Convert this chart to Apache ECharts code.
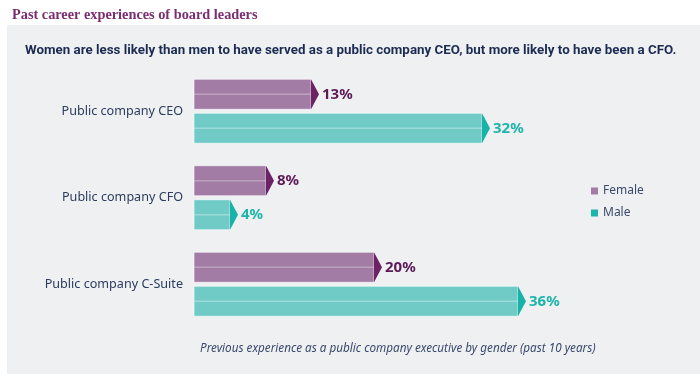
<!DOCTYPE html>
<html><head><meta charset="utf-8">
<script src="https://cdn.jsdelivr.net/npm/echarts@6/dist/echarts.min.js"></script>
<style>html,body{margin:0;padding:0;background:#fff}#c{width:700px;height:378px}</style>
</head><body><div id="c"></div>
<script>
var categories = ['Public company CEO', 'Public company CFO', 'Public company C-Suite'];
var female = [13, 8, 20];
var male = [32, 4, 36];
var seriesNames = ['Female', 'Male'];

var chart = echarts.init(document.getElementById('c'), null, {renderer: 'canvas'});

function makeRender(offset, body, tip, labelColor) {
  return function (params, api) {
    var v = api.value(0), ci = api.value(1);
    var s = api.coord([0, ci]);
    var e = api.coord([v, ci]);
    var yc = s[1] + offset;
    var h = 30;
    return {
      type: 'group',
      children: [
        {type: 'rect', shape: {x: s[0], y: yc - h / 2, width: e[0] - s[0], height: h},
          style: {fill: body, stroke: 'rgba(255,255,255,0.6)', lineWidth: 1}},
        {type: 'line', shape: {x1: s[0], y1: yc, x2: e[0], y2: yc},
          style: {stroke: 'rgba(255,255,255,0.3)', lineWidth: 1.5}},
        {type: 'polygon', shape: {points: [[e[0], yc - h / 2], [e[0] + 8, yc], [e[0], yc + h / 2]]},
          style: {fill: tip}},
        {type: 'text', x: e[0] + 11, y: yc,
          style: {text: v + '%', fill: labelColor, font: 'bold 15px "Noto Sans", sans-serif', verticalAlign: 'middle', align: 'left'}}
      ]
    };
  };
}

var option = {
  animation: false,
  backgroundColor: '#ffffff',
  graphic: [
    {type: 'rect', shape: {x: 7, y: 25, width: 693, height: 349}, style: {fill: '#eff0f2'}, z: -10}
  ],
  title: [
    {text: 'Past career experiences of board leaders', left: 7, top: 3,
      textStyle: {fontFamily: '"Liberation Serif", serif', fontWeight: 'bold', fontSize: 14.3, color: '#7b2d72'}},
    {text: 'Women are less likely than men to have served as a public company CEO, but more likely to have been a CFO.', left: 20, top: 39,
      textStyle: {fontFamily: 'Roboto, sans-serif', fontWeight: 'bold', fontSize: 13.35, color: '#1b2b52'}},
    {text: 'Previous experience as a public company executive by gender (past 10 years)', left: 195, top: 338,
      textStyle: {fontFamily: '"Noto Sans", sans-serif', fontStyle: 'italic', fontWeight: 'normal', fontSize: 11.7, color: '#3a4a6c'}}
  ],
  legend: {
    orient: 'vertical', left: 591, top: 185, padding: 0, itemWidth: 7, itemHeight: 7, itemGap: 10,
    icon: 'rect', data: seriesNames,
    textStyle: {fontFamily: '"Noto Sans", sans-serif', fontSize: 12, color: '#3a4a6c'}
  },
  grid: {left: 194, width: 450, top: 68, height: 259.5},
  xAxis: {type: 'value', min: 0, max: 50, show: false},
  yAxis: {type: 'category', data: categories, inverse: true,
    axisLine: {show: false}, axisTick: {show: false}, splitLine: {show: false},
    axisLabel: {margin: 11, fontFamily: '"Noto Sans", sans-serif', fontSize: 12.6, color: '#2b3b5c'}},
  series: [
    {name: seriesNames[0], type: 'custom', itemStyle: {color: '#a27ca4'},
      renderItem: makeRender(-17, '#a27ca4', '#6d2266', '#5c1a56'),
      encode: {x: 0, y: 1},
      data: female.map(function (v, i) { return [v, i]; })},
    {name: seriesNames[1], type: 'custom', itemStyle: {color: '#1db5aa'},
      renderItem: makeRender(17, '#70cbc7', '#17b3a8', '#1db5aa'),
      encode: {x: 0, y: 1},
      data: male.map(function (v, i) { return [v, i]; })}
  ]
};
chart.setOption(option);
</script></body></html>
